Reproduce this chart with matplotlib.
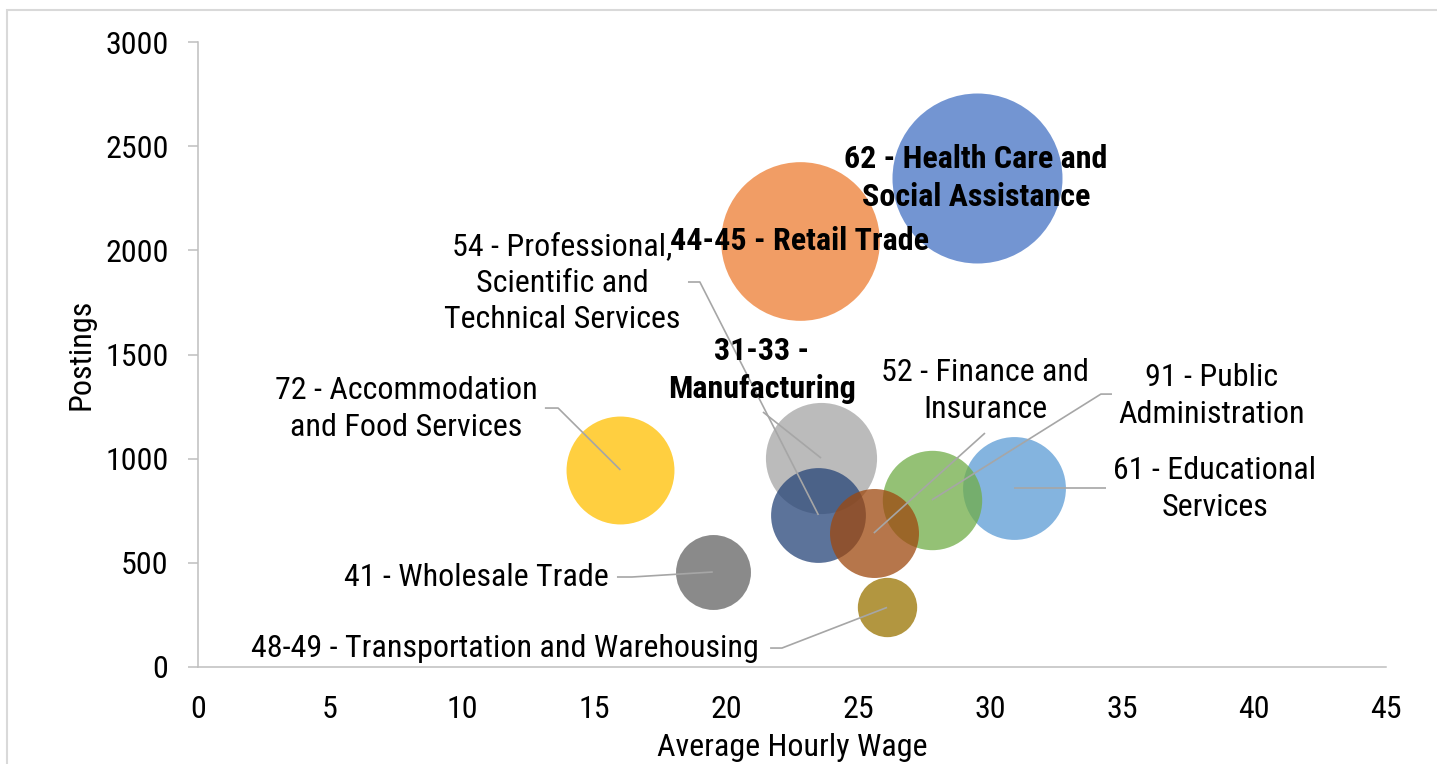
import numpy as np
import matplotlib as mpl
mpl.use('Agg')
import matplotlib.pyplot as plt
from matplotlib.patches import Rectangle
from matplotlib import font_manager

# the original uses a condensed face; take it if it is there
try:
    font_manager.findfont('Roboto Condensed', fallback_to_default=False)
    plt.rcParams['font.family'] = ['Roboto Condensed', 'DejaVu Sans']
    fs = 23
except ValueError:
    plt.rcParams['font.family'] = ['Roboto', 'DejaVu Sans']
    fs = 20.5

# industries, sorted by postings (Excel series order)
names = ['62 - Health Care and\nSocial Assistance',
         '44-45 - Retail Trade',
         '31-33 -\nManufacturing',
         '72 - Accommodation\nand Food Services',
         '61 - Educational\nServices',
         '91 - Public\nAdministration',
         '54 - Professional,\nScientific and\nTechnical Services',
         '52 - Finance and\nInsurance',
         '41 - Wholesale Trade',
         '48-49 - Transportation and Warehousing']
wage = [29.5, 22.8, 23.6, 16.0, 30.9, 27.8, 23.5, 25.6, 19.5, 26.1]
postings = [2347, 2045, 1003, 946, 859, 802, 730, 643, 456, 286]
bold = [True, True, True, False, False, False, False, False, False, False]

colors = ['#4472C4', '#ED7D31', '#A5A5A5', '#FFC000', '#5B9BD5',
          '#70AD47', '#264478', '#9E480E', '#636363', '#997300']

# label centres (data coords) and leader line bend points
lab_pos = [(29.47, 2347), (22.8, 2045), (21.36, 1426), (7.88, 1238), (38.52, 854),
           (38.41, 1301), (13.79, 1843), (29.81, 1325), (10.53, 432), (11.63, 91)]
leaders = [None, None,
           [(21.40, 1224)],
           [(13.14, 1243), (13.64, 1243)],
           [(34.39, 859)],
           [(34.62, 1310), (34.20, 1310)],
           [(18.56, 1848), (19.01, 1848)],
           [(29.81, 1123)],
           [(15.87, 432), (16.44, 432)],
           [(21.67, 91), (22.12, 91)]]

fig = plt.figure(figsize=(14.37, 7.64), dpi=100)
ax = fig.add_axes([198/1437, 97/764, 1188/1437, 625/764])

dmax = 170*0.72  # diameter in points of the largest bubble
sizes = np.array(postings)/max(postings)*dmax**2
for i in range(len(names)):
    ax.scatter(wage[i], postings[i], s=sizes[i], color=colors[i], alpha=0.75,
               linewidths=0, zorder=2)

for i in range(len(names)):
    if leaders[i] is not None:
        pts = leaders[i] + [(wage[i], postings[i])]
        ax.plot([p[0] for p in pts], [p[1] for p in pts], color='#A6A6A6',
                lw=1.2, zorder=3, solid_capstyle='butt')
    ax.text(lab_pos[i][0], lab_pos[i][1], names[i], ha='center', va='center',
            fontsize=fs, fontweight='bold' if bold[i] else 'normal',
            linespacing=1.32, zorder=4, color='black')

ax.set_xlim(0, 45)
ax.set_ylim(0, 3000)
ax.set_xticks(np.arange(0, 46, 5))
ax.set_yticks(np.arange(0, 3001, 500))
ax.tick_params(axis='x', length=0, pad=20, labelsize=fs)
ax.tick_params(axis='y', length=7.2, width=1.1, color='#BFBFBF', pad=14, labelsize=fs)
for s in ['top', 'right']:
    ax.spines[s].set_visible(False)
for s in ['left', 'bottom']:
    ax.spines[s].set_color('#BFBFBF')
    ax.spines[s].set_linewidth(1.1)

ax.set_xlabel('Average Hourly Wage', fontsize=fs)
ax.set_ylabel('Postings', fontsize=fs)
ax.xaxis.set_label_coords(0.5, -0.105)
ax.yaxis.set_label_coords(-0.0867, 0.5)

# chart border
fig.patches.append(Rectangle((7/1437, -0.1), 1.2, (764-10)/764 + 0.1,
                             transform=fig.transFigure, fill=False,
                             edgecolor='#D9D9D9', lw=1.5))

fig.savefig('out.png', dpi=100)
